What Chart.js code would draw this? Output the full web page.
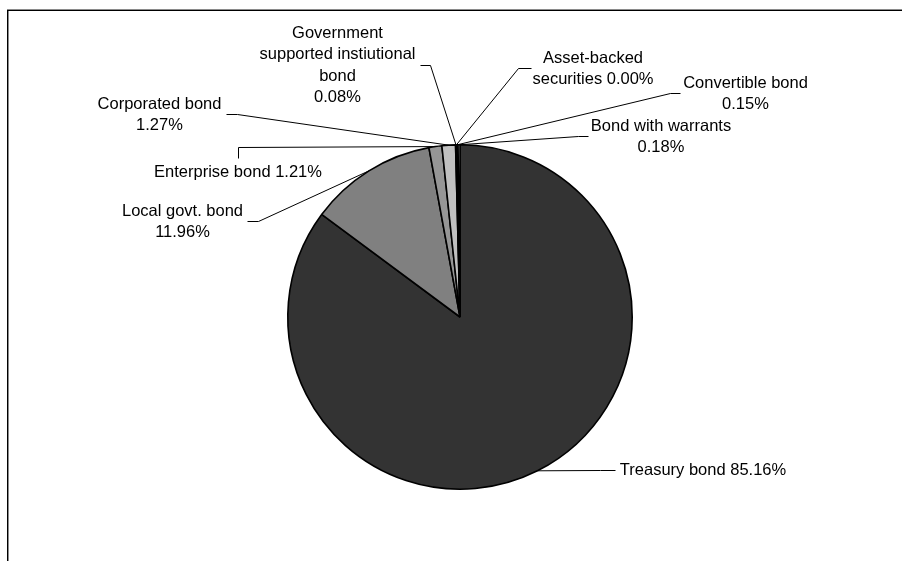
<!DOCTYPE html>
<html>
<head>
<meta charset="utf-8">
<script src="https://cdn.jsdelivr.net/npm/chart.js@4/dist/chart.umd.min.js"></script>
<style>
  html, body { margin: 0; padding: 0; background: #fff; }
  #wrap { position: relative; width: 902px; height: 561px; }
  canvas { display: block; }
</style>
</head>
<body>
<div id="wrap"><canvas id="c" width="902" height="561"></canvas></div>
<script>
// ---- data ----
const categories = [
  "Treasury bond", "Local govt. bond", "Enterprise bond", "Corporated bond",
  "Government supported instiutional bond", "Asset-backed securities",
  "Convertible bond", "Bond with warrants"
];
const shares = [85.16, 11.96, 1.21, 1.27, 0.08, 0.00, 0.15, 0.18];

// ---- styles / layout ----
const sliceColors = ["#333333", "#808080", "#969696", "#c0c0c0", "#e6e6e6", "#ffffff", "#ffffff", "#d0d0d0"];
// how each label wraps: name lines, and whether the percentage sits on its own line
const labelWrap = [
  { lines: ["Treasury bond"], pctNewLine: false },
  { lines: ["Local govt. bond"], pctNewLine: true },
  { lines: ["Enterprise bond"], pctNewLine: false },
  { lines: ["Corporated bond"], pctNewLine: true },
  { lines: ["Government", "supported instiutional", "bond"], pctNewLine: true },
  { lines: ["Asset-backed", "securities"], pctNewLine: false },
  { lines: ["Convertible bond"], pctNewLine: true },
  { lines: ["Bond with warrants"], pctNewLine: true }
];
// label placement: text centre x, first line y, leader elbow, leader end at text
const labelPos = [
  { cx: 703,   y: 470, elbow: [600, 470], end: [615, 470] },
  { cx: 182.5, y: 211, elbow: [258, 221], end: [247, 221] },
  { cx: 238,   y: 172, elbow: [238, 147], end: [238, 158] },
  { cx: 159.5, y: 104, elbow: [237, 114], end: [226, 114] },
  { cx: 337.5, y: 33,  elbow: [430, 65],  end: [420, 65] },
  { cx: 593,   y: 58,  elbow: [518, 68],  end: [531, 68] },
  { cx: 745.5, y: 83,  elbow: [670, 93],  end: [680, 93] },
  { cx: 661,   y: 126, elbow: [578, 136], end: [588, 136] }
];
const LINE_H = 21.5;
const FONT = '16.5px "Liberation Sans", Arial, sans-serif';

function labelText(i) {
  const w = labelWrap[i];
  const pct = shares[i].toFixed(2) + "%";
  const lines = w.lines.slice();
  if (w.pctNewLine) lines.push(pct);
  else lines[lines.length - 1] = lines[lines.length - 1] + " " + pct;
  return lines;
}

const framePlugin = {
  id: "frame",
  beforeDraw(chart) {
    const ctx = chart.ctx;
    ctx.save();
    ctx.fillStyle = "#fff";
    ctx.fillRect(0, 0, chart.width, chart.height);
    ctx.fillStyle = "#8a8a8a";
    ctx.fillRect(7, 9, chart.width - 7, 1);
    ctx.fillRect(8, 10, 1, chart.height - 10);
    ctx.fillStyle = "#000";
    ctx.fillRect(7, 10, chart.width - 7, 1);
    ctx.fillRect(7, 10, 1, chart.height - 10);
    ctx.restore();
  }
};

const labelPlugin = {
  id: "leaderLabels",
  afterDraw(chart) {
    const ctx = chart.ctx;
    const meta = chart.getDatasetMeta(0);
    ctx.save();
    ctx.strokeStyle = "#000";
    ctx.lineWidth = 1;
    ctx.fillStyle = "#000";
    ctx.font = FONT;
    ctx.textAlign = "center";
    ctx.textBaseline = "middle";
    meta.data.forEach((arc, i) => {
      const p = arc.getProps(["x", "y", "startAngle", "endAngle", "outerRadius"], true);
      const mid = (p.startAngle + p.endAngle) / 2;
      const sx = p.x + p.outerRadius * Math.cos(mid);
      const sy = p.y + p.outerRadius * Math.sin(mid);
      const lp = labelPos[i];
      ctx.beginPath();
      ctx.moveTo(sx, sy);
      ctx.lineTo(lp.elbow[0] + 0.5, lp.elbow[1] + 0.5);
      ctx.lineTo(lp.end[0] + 0.5, lp.end[1] + 0.5);
      ctx.stroke();
      labelText(i).forEach((t, k) => {
        ctx.fillText(t, lp.cx, lp.y + k * LINE_H);
      });
    });
    ctx.restore();
  }
};

new Chart(document.getElementById("c"), {
  type: "pie",
  data: {
    labels: categories,
    datasets: [{
      data: shares,
      backgroundColor: sliceColors,
      borderColor: "#000",
      borderWidth: 1.6,
      hoverOffset: 0
    }]
  },
  options: {
    responsive: false,
    animation: false,
    events: [],
    layout: { padding: { left: 287, right: 269, top: 144, bottom: 71 } },
    plugins: {
      legend: { display: false },
      tooltip: { enabled: false },
      title: { display: false }
    }
  },
  plugins: [framePlugin, labelPlugin]
});
</script>
</body>
</html>
